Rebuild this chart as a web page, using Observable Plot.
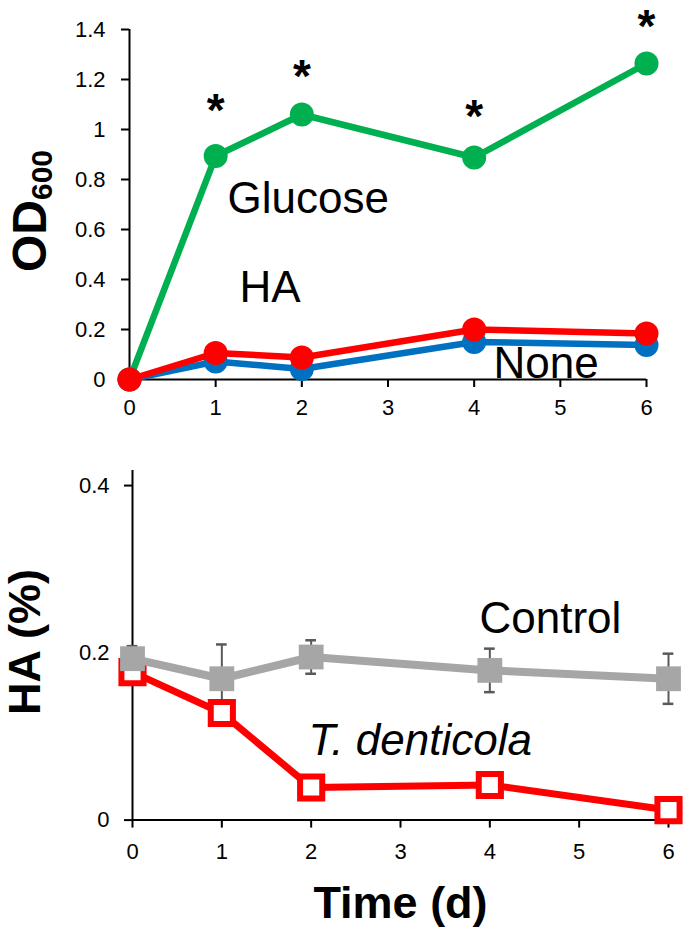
<!DOCTYPE html>
<html>
<head>
<meta charset="utf-8">
<script src="https://cdn.jsdelivr.net/npm/d3@7"></script>
<script src="https://cdn.jsdelivr.net/npm/@observablehq/plot@0.6"></script>
<style>
  html, body { margin: 0; padding: 0; background: white; }
  #wrap { position: relative; width: 685px; height: 932px; overflow: hidden; }
  #top, #bottom { position: absolute; left: 0; }
  #top { top: 0; }
  #bottom { top: 430px; }
</style>
</head>
<body>
<div id="wrap"><div id="top"></div><div id="bottom"></div></div>
<script>
// ---------- data ----------
const days = [0, 1, 2, 4, 6];
const xTicks = [0, 1, 2, 3, 4, 5, 6];

// top panel: OD600
const glucoseOD = [0, 0.894, 1.06, 0.888, 1.264];
const haOD = [0, 0.106, 0.088, 0.2, 0.184];
const noneOD = [0, 0.072, 0.042, 0.15, 0.138];
const starDays = [1, 2, 4, 6];
const starHeights = [1.112, 1.248, 1.088, 1.448];
const odTicks = [0, 0.2, 0.4, 0.6, 0.8, 1, 1.2, 1.4];
const odTickLabels = ["0", "0.2", "0.4", "0.6", "0.8", "1", "1.2", "1.4"];
const topLabels = ["Glucose", "HA", "None"];
const topLabelX = [1.137, 1.277, 4.224];
const topLabelY = [0.722, 0.366, 0.062];

// bottom panel: HA (%)
const controlHA = [0.193, 0.169, 0.195, 0.179, 0.169];
const controlErr = [0.015, 0.041, 0.02, 0.026, 0.03];
const denticolaHA = [0.177, 0.128, 0.039, 0.042, 0.012];
const haTicks = [0, 0.2, 0.4];
const haTickLabels = ["0", "0.2", "0.4"];
const controlLabel = "Control", controlLabelX = 3.884, controlLabelY = 0.240;
const denticolaLabel = "T. denticola", denticolaLabelX = 1.97, denticolaLabelY = 0.095;

// ---------- helpers ----------
const FONT = "'Liberation Sans', Arial, Helvetica, sans-serif";
const rows = vals => days.map((d, i) => ({day: d, v: vals[i]}));
const GREEN = "#00B050", BLUE = "#0070C0", RED = "#FF0000", GRAY = "#A6A6A6", ERR = "#595959";

// enlarge axis tick labels (inline style beats Plot's defaults)
const tickStrings = new Set([...xTicks.map(String), ...odTickLabels, ...haTickLabels]);
function fixTicks(svgNode) {
  d3.select(svgNode).selectAll("text").each(function() {
    if (tickStrings.has(this.textContent.trim())) {
      this.style.setProperty("font-size", "22px", "important");
      this.style.setProperty("font-family", FONT);
    }
  });
}

// ---------- top plot ----------
const topPlot = Plot.plot({
  width: 685, height: 430,
  marginLeft: 129, marginRight: 39, marginTop: 29, marginBottom: 51,
  x: {domain: [0, 6]},
  y: {domain: [0, 1.4]},
  style: {fontFamily: FONT, fontSize: "22px", color: "black", background: "white"},
  marks: [
    Plot.axisX({ticks: xTicks, tickSize: 8, tickPadding: 12, strokeWidth: 2, label: null,
      tickFormat: d => String(d)}),
    Plot.axisY({ticks: odTicks, tickSize: 8, tickPadding: 16, strokeWidth: 2, label: null,
      tickFormat: d => odTickLabels[odTicks.indexOf(d)]}),
    Plot.ruleX([0], {stroke: "black", strokeWidth: 2}),
    Plot.ruleY([0], {stroke: "black", strokeWidth: 2}),
    Plot.line(rows(glucoseOD), {x: "day", y: "v", stroke: GREEN, strokeWidth: 6.5}),
    Plot.dot(rows(glucoseOD), {x: "day", y: "v", r: 12, fill: GREEN}),
    Plot.line(rows(noneOD), {x: "day", y: "v", stroke: BLUE, strokeWidth: 6.5}),
    Plot.dot(rows(noneOD), {x: "day", y: "v", r: 12, fill: BLUE}),
    Plot.line(rows(haOD), {x: "day", y: "v", stroke: RED, strokeWidth: 6.5}),
    Plot.dot(rows(haOD), {x: "day", y: "v", r: 12, fill: RED}),
    Plot.text(starDays.map((d, i) => ({day: d, v: starHeights[i]})),
      {x: "day", y: "v", text: () => "*", fontSize: 46, fontWeight: "bold", fill: "black", dy: 10}),
    Plot.text(topLabels.map((t, i) => ({t, x: topLabelX[i], y: topLabelY[i]})),
      {x: "x", y: "y", text: "t", textAnchor: "start", fontSize: 44, fill: "black"})
  ]
});
document.getElementById("top").appendChild(topPlot);
fixTicks(topPlot);

// OD600 label with subscript
{
  const svg = d3.select(topPlot);
  const t = svg.append("text")
    .attr("transform", "translate(46,211) rotate(-90)")
    .attr("text-anchor", "middle")
    .attr("font-family", FONT)
    .attr("font-weight", "bold")
    .attr("font-size", 48)
    .attr("fill", "black");
  t.append("tspan").text("OD");
  t.append("tspan").attr("font-size", 30).attr("dy", 6).text("600");
}

// ---------- bottom plot ----------
const errRows = days.map((d, i) => ({day: d, v: controlHA[i], lo: controlHA[i] - controlErr[i], hi: controlHA[i] + controlErr[i]}));
const capHalf = 0.06;
const bottomPlot = Plot.plot({
  width: 685, height: 502,
  marginLeft: 132, marginRight: 17, marginTop: 40, marginBottom: 112.4,
  x: {domain: [0, 6]},
  y: {domain: [0, 0.418]},
  style: {fontFamily: FONT, fontSize: "22px", color: "black", background: "white"},
  marks: [
    Plot.axisX({ticks: xTicks, tickSize: 8, tickPadding: 15, strokeWidth: 2, label: null,
      tickFormat: d => String(d)}),
    Plot.axisY({ticks: haTicks, tickSize: 8, tickPadding: 15, strokeWidth: 2, label: null,
      tickFormat: d => haTickLabels[haTicks.indexOf(d)]}),
    Plot.ruleX([0], {stroke: "black", strokeWidth: 2}),
    Plot.ruleY([0], {stroke: "black", strokeWidth: 2}),
    // error bars
    Plot.ruleX(errRows, {x: "day", y1: "lo", y2: "hi", stroke: ERR, strokeWidth: 2}),
    Plot.ruleY(errRows, {y: "hi", x1: d => d.day - capHalf, x2: d => d.day + capHalf, stroke: ERR, strokeWidth: 2.5}),
    Plot.ruleY(errRows, {y: "lo", x1: d => d.day - capHalf, x2: d => d.day + capHalf, stroke: ERR, strokeWidth: 2.5}),
    // T. denticola
    Plot.line(rows(denticolaHA), {x: "day", y: "v", stroke: RED, strokeWidth: 7}),
    Plot.dot(rows(denticolaHA), {x: "day", y: "v", symbol: "square", r: 12.5, fill: "white", stroke: RED, strokeWidth: 6}),
    // Control
    Plot.line(rows(controlHA), {x: "day", y: "v", stroke: GRAY, strokeWidth: 8}),
    Plot.dot(rows(controlHA), {x: "day", y: "v", symbol: "square", r: 14, fill: GRAY}),
    Plot.text([{t: controlLabel, x: controlLabelX, y: controlLabelY}],
      {x: "x", y: "y", text: "t", textAnchor: "start", fontSize: 44, fill: "black"}),
    Plot.text([{t: denticolaLabel, x: denticolaLabelX, y: denticolaLabelY}],
      {x: "x", y: "y", text: "t", textAnchor: "start", fontSize: 44, fill: "black", fontStyle: "italic"})
  ]
});
document.getElementById("bottom").appendChild(bottomPlot);
fixTicks(bottomPlot);

{
  const svg = d3.select(bottomPlot);
  svg.append("text")
    .attr("transform", "translate(40,212) rotate(-90)")
    .attr("text-anchor", "middle")
    .attr("font-family", FONT)
    .attr("font-weight", "bold")
    .attr("font-size", 45)
    .attr("fill", "black")
    .text("HA (%)");
  svg.append("text")
    .attr("x", 400.5).attr("y", 488)
    .attr("text-anchor", "middle")
    .attr("font-family", FONT)
    .attr("font-weight", "bold")
    .attr("font-size", 45)
    .attr("fill", "black")
    .text("Time (d)");
}
</script>
</body>
</html>
